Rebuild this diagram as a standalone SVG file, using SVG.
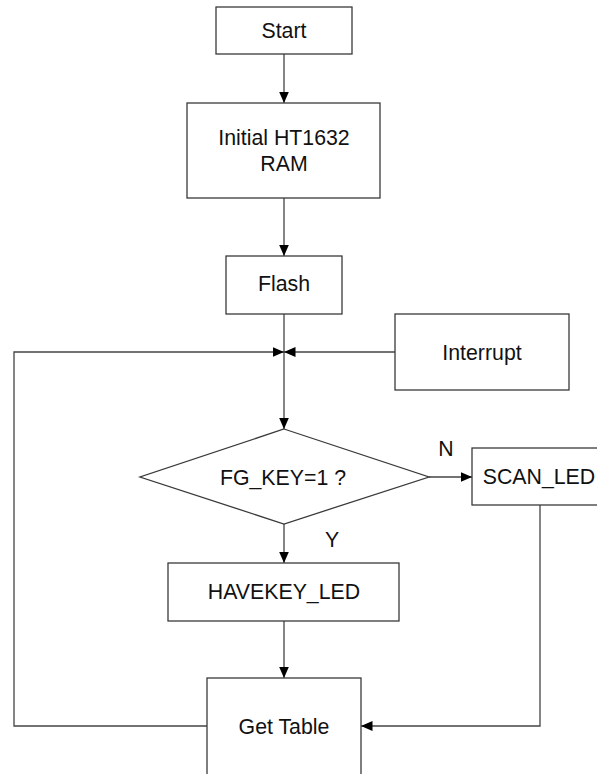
<svg xmlns="http://www.w3.org/2000/svg" width="597" height="774" viewBox="0 0 597 774">
  <style>
    .box { fill: #ffffff; stroke: #3a3a3a; stroke-width: 1.3; }
    .lbl { font-family: "Liberation Sans", Arial, sans-serif; font-size: 21.3px; fill: #111111; text-anchor: middle; }
    .wire { fill: none; stroke: #444444; stroke-width: 1.3; }
    .arr { marker-end: url(#tip); }
  </style>
  <defs>
    <marker id="tip" markerUnits="userSpaceOnUse" markerWidth="12" markerHeight="11" refX="11.5" refY="5" orient="auto">
      <path d="M0,0 L11.5,5 L0,10 z" fill="#000000"/>
    </marker>
  </defs>
  <rect width="597" height="774" fill="#ffffff"/>

  <g id="connectors">
    <path class="wire arr" d="M284,54 V103"/>
    <path class="wire arr" d="M284,198 V256"/>
    <path class="wire arr" d="M284,314 V429"/>
    <path class="wire arr" d="M207,726 H14 V352 H284"/>
    <path class="wire arr" d="M395,352 H284"/>
    <path class="wire arr" d="M429,477 H472"/>
    <path class="wire arr" d="M284,524 V563"/>
    <path class="wire arr" d="M284,621 V678"/>
    <path class="wire arr" d="M540,505 V726 H361"/>
  </g>

  <g id="start">
    <rect class="box" x="216" y="7" width="136" height="47"/>
    <text class="lbl" x="284" y="37.5">Start</text>
  </g>

  <g id="init-ram">
    <rect class="box" x="187" y="103" width="193" height="95"/>
    <text class="lbl" x="284" y="144.5">Initial HT1632</text>
    <text class="lbl" x="284" y="171">RAM</text>
  </g>

  <g id="flash">
    <rect class="box" x="226" y="256" width="116" height="58"/>
    <text class="lbl" x="284" y="291">Flash</text>
  </g>

  <g id="interrupt">
    <rect class="box" x="395" y="314" width="174" height="76"/>
    <text class="lbl" x="482" y="359.5">Interrupt</text>
  </g>

  <g id="fg-key">
    <polygon class="box" points="284,429 429,477 284,524 140,477"/>
    <text class="lbl" x="283" y="484.5">FG_KEY=1 ?</text>
    <text class="lbl" x="446" y="455.5">N</text>
    <text class="lbl" x="332" y="546.5">Y</text>
  </g>

  <g id="scan-led">
    <rect class="box" x="472" y="448" width="140" height="57"/>
    <text class="lbl" x="539" y="483.5">SCAN_LED</text>
  </g>

  <g id="havekey-led">
    <rect class="box" x="168" y="563" width="231" height="58"/>
    <text class="lbl" x="284" y="598.5">HAVEKEY_LED</text>
  </g>

  <g id="get-table">
    <rect class="box" x="207" y="678" width="154" height="110"/>
    <text class="lbl" x="284" y="733.5">Get Table</text>
  </g>
</svg>
